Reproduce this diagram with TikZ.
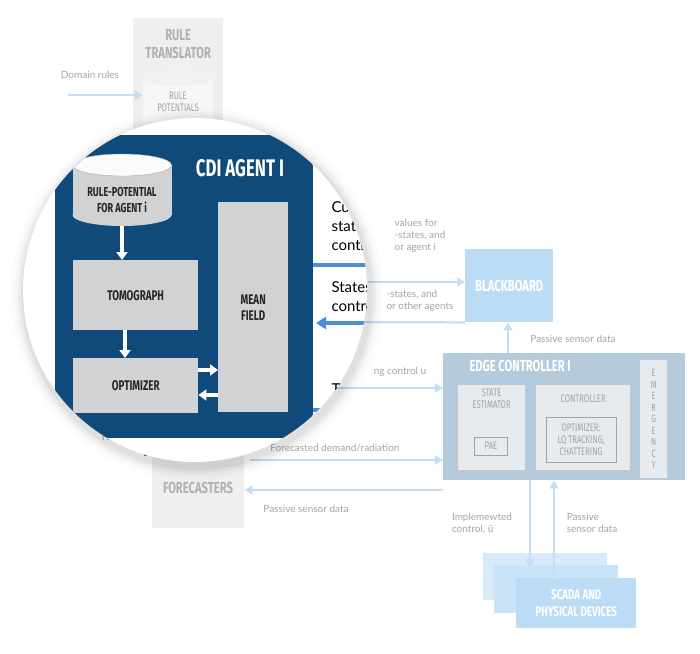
\documentclass[tikz,border=0pt]{standalone}
\usepackage{fontspec}
\setmainfont{Lato}
\newfontfamily\condfont[FakeStretch=0.7]{Fira Sans}
\usetikzlibrary{arrows.meta,positioning}
\definecolor{cdiblue}{HTML}{0F4A7A}
\definecolor{arrblue}{HTML}{4A8FD6}
\definecolor{palearr}{HTML}{C6DDF2}
\definecolor{palebox}{HTML}{EFEFEF}
\definecolor{midgray}{HTML}{D0D2D4}
\definecolor{edgebox}{HTML}{B5CADB}
\definecolor{edgein}{HTML}{E8EBED}
\definecolor{bbox}{HTML}{BCDCF6}
\definecolor{lbltext}{HTML}{A0A4A8}
\tikzset{
  title/.style={font=\condfont\bfseries\fontsize{16}{18}\selectfont, align=center},
  gray title/.style={title, text=lbltext!85},
  lbl/.style={font=\fontsize{10}{12}\selectfont, text=lbltext, align=left},
  inbox/.style={fill=midgray, inner sep=0pt, font=\condfont\bfseries\fontsize{14}{16}\selectfont, align=center, text=black!85},
  pale arrow/.style={draw=palearr, line width=2.2pt, -{Triangle[length=8pt,width=9pt]}},
  white arrow/.style={draw=white, line width=3.5pt, -{Triangle[length=8pt,width=11pt]}},
  blue arrow/.style={draw=arrblue, line width=3.5pt, -{Triangle[length=10pt,width=12pt]}},
  big text/.style={font=\fontsize{15}{19}\selectfont, align=left, anchor=north west}
}
\begin{document}
\begin{tikzpicture}[x=1pt,y=-1pt]
  \useasboundingbox (0,0) rectangle (700,653);
  % background layer
  \node[fill=palebox, minimum width=90, minimum height=140, anchor=north west, inner sep=0pt] (rt) at (133,18) {};
  \node[gray title, anchor=north, yshift=-8pt] (rttxt) at (rt.north) {RULE\\TRANSLATOR};
  \fill[white!93!gray] (143,78) rectangle (213,128);
  \fill[white!88!gray] (178,78) ellipse (35 and 8);
  \node[font=\condfont\fontsize{11}{12}\selectfont, text=lbltext, align=center] (rpot) at (178,102) {RULE\\POTENTIALS};
  \node[lbl] (dom) at (90,75) {Domain rules};
  \coordinate (domst) at (68,95);
  \draw[pale arrow] (domst) -- (143,95);

  \node[fill=bbox, minimum width=88, minimum height=73, inner sep=0pt, anchor=north west, title, text=white] (bb) at (465,249) {BLACKBOARD};

  \node[fill=edgebox, minimum width=242, minimum height=127, inner sep=0pt, anchor=north west] (ec) at (443,353) {};
  \node[title, text=white, anchor=north west] (ectxt) at (466,357) {EDGE CONTROLLER I};
  \node[fill=edgein, minimum width=67, minimum height=85, anchor=north west, inner sep=0pt] (se) at (458,385) {};
  \node[font=\condfont\fontsize{11}{12}\selectfont, text=lbltext, align=center, anchor=north] at (se.north) {STATE\\ESTIMATOR};
  \node[draw=lbltext, minimum width=33, minimum height=18, font=\condfont\fontsize{11}{11}\selectfont, text=lbltext] (pae) at (491,446) {PAE};
  \node[fill=edgein, minimum width=94, minimum height=85, anchor=north west, inner sep=0pt] (ctl) at (536,385) {};
  \node[font=\condfont\fontsize{11}{11}\selectfont, text=lbltext, anchor=north, yshift=-6pt] at (ctl.north) {CONTROLLER};
  \node[draw=lbltext, minimum width=70, minimum height=45, font=\condfont\fontsize{11}{12}\selectfont, text=lbltext, align=center] (opt2) at (581,440) {OPTIMIZER:\\LQ TRACKING,\\CHATTERING};
  \node[fill=edgein, minimum width=27, minimum height=118, anchor=north west, inner sep=0pt] (em) at (640,360) {};
  \node[font=\condfont\fontsize{10.5}{11.5}\selectfont, text=lbltext, align=center] at (em.center) {E\\M\\E\\R\\G\\E\\N\\C\\Y};

  \node[fill=palebox, minimum width=92, minimum height=120, anchor=north west, inner sep=0pt] (fc) at (152,408) {};
  \node[gray title] (fctxt) at (198,488) {FORECASTERS};

  \fill[bbox!60] (483,553) rectangle (607,600);
  \fill[bbox!80] (494,565) rectangle (618,613);
  \node[fill=bbox, minimum width=120, minimum height=50, inner sep=0pt, anchor=north west, title, text=white, font=\condfont\bfseries\fontsize{14}{17}\selectfont] (scada) at (516,578) {SCADA AND\\PHYSICAL DEVICES};

  % background connectors
  \draw[pale arrow] (368,282) -- (bb.west |- 0,282);
  \draw[draw=palearr, line width=2.2pt] (bb.south west) -- (320,322);
  \draw[pale arrow] (ec.north -| 508,0) -- (bb.south -| 508,0);
  \node[lbl] at (573,339) {Passive sensor data};
  \node[lbl] at (420,236) {values for\\-states, and\\or agent i};
  \node[lbl] at (420,301) {-states, and\\or other agents};
  \draw[pale arrow] (320,388) -- (ec.west |- 0,388);
  \node[lbl] at (400,372) {ng control u};
  \draw[pale arrow] (250,460) -- (ec.west |- 0,460);
  \node[lbl] at (335,448) {Forecasted demand/radiation};
  \draw[pale arrow] (ec.south west |- 0,490) -- (fc.east |- 0,490);
  \node[lbl] at (306,509) {Passive sensor data};
  \draw[pale arrow] (ec.south -| 530,0) -- (530,567);
  \draw[pale arrow] (554,578) -- (ec.south -| 554,0);
  \node[lbl] at (482,523) {Implemewted\\control, ũ};
  \node[lbl] at (592,523) {Passive\\sensor data};
  \draw[draw=arrblue, line width=3pt] (145,430) -- (145,456);
  \node[lbl] at (108,437) {Ha};

  % magnifier
  \foreach \r/\o in {186/0.015,182/0.025,179/0.035,176/0.05}
    \fill[black, opacity=\o] (197,294) circle (\r);
  \fill[white] (195,290) circle (172);
  \begin{scope}
    \clip (195,290) circle (172);
    \fill[cdiblue] (55,135) rectangle (313,438);
    \node[title, text=white, font=\condfont\bfseries\fontsize{24}{24}\selectfont] (cdi) at (240,168) {CDI AGENT I};
    \fill[midgray] (73,165) rectangle (172,215);
    \fill[midgray] (122,215) ellipse (49.5 and 11);
    \fill[white!92!midgray] (122,165) ellipse (49.5 and 11);
    \draw[midgray!80!black, line width=.4pt] (122,165) ellipse (49.5 and 11);
    \node[inbox, fill=none, font=\condfont\bfseries\fontsize{13}{16}\selectfont] (rp) at (122,200) {RULE-POTENTIAL\\FOR AGENT i};
    \node[inbox, minimum width=125, minimum height=70, anchor=north west] (tomo) at (73,260) {TOMOGRAPH};
    \node[inbox, minimum width=125, minimum height=55, anchor=north west] (opt) at (73,358) {OPTIMIZER};
    \node[inbox, minimum width=70, minimum height=210, anchor=north west] (mf) at (218,202) {MEAN\\FIELD};
    \draw[white arrow] (122,226) -- (tomo.north -| 122,0);
    \draw[white arrow] (tomo.south -| 125,0) -- (opt.north -| 125,0);
    \draw[white arrow] (opt.east |- 0,370) -- (mf.west |- 0,370);
    \draw[white arrow] (mf.west |- 0,395) -- (opt.east |- 0,395);
    \node[big text] (cur) at (328,198) {Cur\\state\\contr};
    \draw[draw=arrblue, line width=3.5pt] (313,265) -- (380,265);
    \node[big text] (sts) at (328,278) {States\\contro};
    \draw[blue arrow] (380,323) -- (316,323);
    \node[big text] (tr) at (328,380) {Tr};
    \draw[draw=arrblue, line width=3.5pt] (313,410) -- (380,410);
  \end{scope}
\end{tikzpicture}
\end{document}
